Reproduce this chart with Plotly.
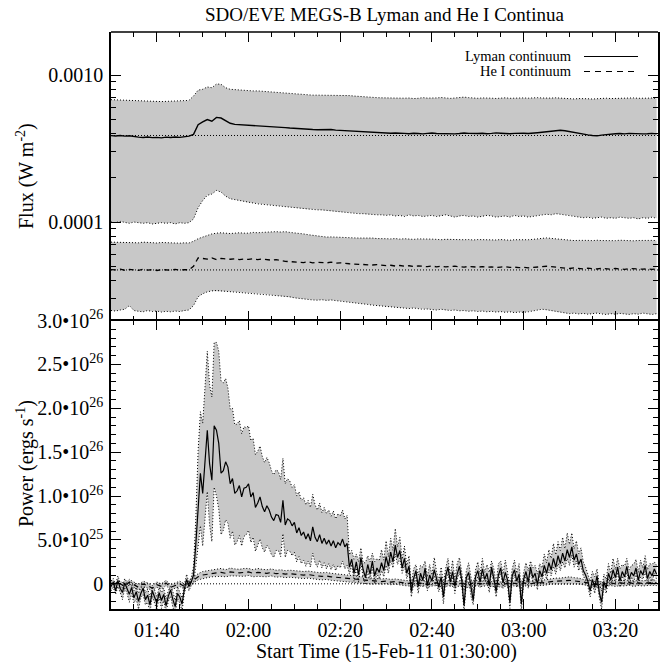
import numpy as np
import plotly.graph_objects as go
from plotly.subplots import make_subplots

# ---------------- data (time = minutes after 01:30:00) ----------------
X_END = 119.3

# top panel, 1-min cadence
lyman_flux_e4 = [3.87,3.85,3.88,3.84,3.86,3.80,3.78,3.76,3.79,3.75,3.77,3.74,3.78,3.76,3.79,3.77,3.81,3.84,
                 3.95,4.60,4.80,4.98,4.85,5.15,5.10,4.88,4.70,4.62,4.60,4.62,4.58,4.55,4.54,4.51,4.50,4.47,4.44,4.41,4.39,4.36,
                 4.33,4.31,4.28,4.27,4.26,4.25,4.27,4.24,4.26,4.22,4.20,4.17,4.15,4.13,4.12,4.10,4.09,4.07,4.06,4.05,
                 4.04,4.02,4.03,4.00,4.01,3.99,4.02,4.00,3.98,4.01,
                 4.03,4.00,3.99,4.02,4.01,3.98,4.00,4.03,4.01,3.99,
                 4.00,4.02,3.99,4.01,4.04,4.02,4.00,3.99,4.01,4.03,
                 4.02,4.00,4.01,4.05,4.08,4.12,4.16,4.19,4.21,4.18,
                 4.12,4.06,4.01,3.97,3.92,3.88,3.86,3.90,3.94,3.97,
                 3.99,4.00,3.98,4.01,3.99,4.00,3.98,3.99,4.01,3.98]
lyman_hi_e4 = [6.80,6.78,6.75,6.72,6.70,6.68,6.66,6.65,6.64,6.62,6.63,6.60,6.62,6.64,6.63,6.66,6.70,6.72,
               7.2,7.9,8.0,8.3,8.2,8.7,8.65,8.2,8.0,7.95,7.9,7.9,7.85,7.8,7.8,7.75,7.7,7.7,7.65,7.6,7.55,7.5,
               7.45,7.4,7.35,7.35,7.3,7.3,7.3,7.28,7.3,7.27,7.3,7.28,7.25,7.2,7.15,7.12,7.1,7.05,7.02,7.0,
               6.98,6.95,7.00,6.93,6.96,6.98,6.92,6.95,7.02,6.97,
               6.95,6.99,7.03,6.96,6.94,6.98,7.05,7.08,7.02,6.97,
               6.95,6.99,7.01,6.96,6.93,6.97,7.00,6.95,6.98,7.02,
               6.99,6.96,7.00,7.02,6.98,6.95,6.97,7.00,6.96,6.93,
               6.90,6.88,6.92,6.95,6.90,6.87,6.91,6.94,6.96,6.92,
               6.95,6.97,6.93,6.96,6.99,6.95,6.92,6.96,6.98,6.94]
lyman_lo_e4 = [1.00,0.99,1.01,0.99,0.98,1.00,0.99,0.98,0.99,0.97,0.98,0.99,0.98,0.99,0.97,0.99,0.98,0.99,
               1.05,1.25,1.40,1.52,1.55,1.64,1.60,1.50,1.44,1.42,1.40,1.38,1.36,1.34,1.33,1.32,1.31,1.30,1.29,1.28,1.27,1.26,
               1.25,1.24,1.23,1.22,1.22,1.21,1.21,1.20,1.19,1.18,1.17,1.16,1.16,1.15,1.14,1.14,1.13,1.13,1.12,1.12,
               1.11,1.12,1.10,1.11,1.09,1.12,1.10,1.11,1.09,1.10,
               1.11,1.09,1.10,1.12,1.10,1.08,1.10,1.11,1.09,1.10,
               1.08,1.09,1.11,1.10,1.08,1.09,1.10,1.08,1.11,1.09,
               1.10,1.08,1.09,1.11,1.12,1.13,1.12,1.14,1.13,1.12,
               1.11,1.10,1.08,1.07,1.08,1.06,1.07,1.08,1.06,1.07,
               1.06,1.08,1.07,1.06,1.07,1.05,1.07,1.06,1.08,1.06]
he_flux_e5 = [4.75,4.72,4.78,4.70,4.76,4.73,4.69,4.77,4.71,4.74,4.68,4.75,4.72,4.70,4.76,4.71,4.74,4.73,
              5.0,5.7,5.65,5.6,5.7,5.55,5.65,5.6,5.58,5.62,5.55,5.6,5.57,5.62,5.55,5.6,5.55,5.5,5.55,5.45,5.4,5.38,
              5.35,5.33,5.3,5.36,5.28,5.32,5.3,5.27,5.33,5.25,5.28,5.22,5.2,5.18,5.15,5.17,5.12,5.1,5.13,5.08,
              5.05,5.08,5.02,5.06,5.0,5.04,4.98,5.03,5.0,4.97,
              5.02,4.96,5.0,4.95,4.99,5.01,4.96,4.94,4.98,4.95,
              4.93,4.97,4.92,4.95,4.9,4.94,4.96,4.91,4.93,4.89,
              4.92,4.88,4.91,4.95,4.98,5.0,4.97,4.93,4.9,4.86,
              4.83,4.87,4.84,4.8,4.85,4.82,4.79,4.84,4.81,4.78,
              4.83,4.8,4.77,4.82,4.79,4.81,4.78,4.8,4.76,4.79]
he_hi_e5 = [7.3,7.28,7.32,7.25,7.3,7.27,7.22,7.3,7.25,7.28,7.2,7.26,7.23,7.2,7.25,7.18,7.22,7.2,
            7.4,7.7,7.9,8.1,8.3,8.4,8.45,8.4,8.35,8.4,8.45,8.4,8.4,8.5,8.45,8.5,8.55,8.5,8.6,8.55,8.6,8.5,
            8.45,8.4,8.3,8.2,8.1,8.0,7.95,7.9,7.92,7.88,7.9,7.85,7.82,7.8,7.78,7.8,7.75,7.78,7.72,7.75,
            7.7,7.68,7.72,7.65,7.7,7.66,7.62,7.68,7.64,7.6,
            7.65,7.62,7.58,7.63,7.6,7.66,7.62,7.58,7.6,7.55,
            7.6,7.57,7.62,7.58,7.55,7.6,7.56,7.52,7.58,7.55,
            7.6,7.58,7.62,7.7,7.75,7.8,7.74,7.68,7.6,7.55,
            7.52,7.48,7.5,7.46,7.5,7.47,7.52,7.48,7.45,7.5,
            7.47,7.52,7.48,7.5,7.45,7.49,7.52,7.47,7.5,7.48]
he_lo_e5 = [2.5,2.48,2.52,2.55,2.7,2.5,2.47,2.45,2.5,2.46,2.48,2.44,2.47,2.45,2.48,2.46,2.5,2.52,
            2.7,3.1,3.25,3.35,3.4,3.42,3.4,3.38,3.36,3.35,3.33,3.3,3.28,3.27,3.26,3.25,3.22,3.2,3.18,3.15,3.12,3.1,
            3.05,3.02,3.0,2.98,2.95,2.94,2.96,2.93,2.95,2.92,2.9,2.88,2.85,2.82,2.8,2.78,2.75,2.72,2.7,2.68,
            2.66,2.64,2.62,2.63,2.6,2.58,2.6,2.57,2.55,2.56,
            2.54,2.52,2.55,2.51,2.5,2.52,2.49,2.5,2.47,2.49,
            2.46,2.48,2.45,2.47,2.44,2.46,2.43,2.45,2.42,2.44,
            2.43,2.45,2.48,2.52,2.55,2.53,2.5,2.46,2.43,2.4,
            2.38,2.4,2.37,2.39,2.36,2.38,2.4,2.37,2.35,2.38,
            2.36,2.39,2.37,2.35,2.38,2.36,2.4,2.37,2.35,2.38]
lyman_ref = 3.88e-4
he_ref = 4.72e-5

# bottom panel, 30-s cadence (units of 1e25 erg/s)
power_ly_e25 = [-0.3,0.2,-0.8,0.4,-0.5,-1.0,0.1,-0.6,
                -1.2,-0.4,-1.6,-0.9,-2.0,-1.1,-0.5,-1.8,
                -1.3,-2.4,-0.8,-1.5,-2.2,-1.0,-1.9,-1.2,
                -2.5,-1.4,-0.7,-1.8,-2.6,-1.1,-1.5,-2.3,
                -0.6,0.5,-0.3,0.2,
                1.0,4.5,9.2,12.6,10.3,14.1,17.5,13.7,11.8,18.0,17.5,16.0,12.6,12.9,13.9,13.3,11.4,12.0,
                10.3,10.6,11.2,9.9,10.9,11.0,11.4,9.9,10.4,8.7,9.2,9.9,8.8,8.2,8.9,8.4,7.6,7.2,7.9,7.8,
                7.0,9.5,6.7,7.4,7.2,6.6,
                7.0,5.8,6.4,5.5,5.9,5.1,5.7,4.9,6.5,5.3,4.8,5.6,4.6,5.2,4.5,5.0,4.3,4.9,4.1,4.7,4.4,5.1,4.2,4.6,
                1.9,2.8,1.2,2.5,1.0,3.0,1.6,0.7,2.2,1.1,2.6,0.9,1.8,1.3,
                2.4,1.5,3.1,2.0,3.6,2.5,4.4,3.0,3.8,1.8,2.9,1.2,2.0,
                -0.9,0.6,1.5,-0.3,1.2,0.4,1.8,-0.2,1.0,0.3,1.6,0.5,-0.4,0.8,-1.5,0.9,1.9,0.2,1.4,-0.3,
                1.1,2.0,0.4,-2.5,0.7,1.3,-0.6,-1.9,0.8,1.5,
                0.2,1.7,0.5,1.2,-0.2,1.9,0.6,-0.9,1.0,1.8,0.1,1.3,0.4,-2.1,0.9,1.6,0.3,1.1,-2.3,0.5,
                1.4,0.2,1.9,0.7,1.2,-0.1,1.5,0.8,2.1,
                1.2,2.4,1.6,2.9,1.9,3.2,2.3,3.5,2.6,3.9,3.0,4.2,2.7,3.4,2.2,2.8,1.5,1.0,
                0.3,-0.8,0.5,-0.4,0.9,-1.0,-2.1,0.2,-0.5,
                1.2,0.4,1.6,0.7,1.9,0.3,1.4,0.8,2.0,0.5,1.3,0.9,1.8,0.4,1.5,1.0,2.1,0.6,1.4,0.9,1.7,1.1]
err_ly_hi_e25 = [0.6,0.4,0.7,0.5,0.6,0.8,0.5,0.7,0.9,0.6,0.8,0.5,0.9,0.7,0.6,0.8,0.7,0.9,0.5,0.8,0.7,0.6,0.9,0.7,
                 0.8,0.6,0.5,0.9,0.7,0.8,0.6,0.7,0.5,0.6,0.4,0.5,
                 1.0,3.0,6.0,7.0,8.0,8.5,9.0,9.0,9.5,9.5,10.0,10.5,10.5,10.0,9.5,9.0,8.5,8.0,7.8,7.6,7.4,7.2,
                 7.0,6.8,6.6,6.4,6.2,6.0,5.9,5.8,5.7,5.6,5.5,5.4,5.3,5.2,5.1,5.0,4.9,4.8,4.7,4.6,4.5,4.4,
                 4.3,4.2,4.1,4.0,3.9,3.9,3.8,3.8,3.7,3.7,3.6,3.6,3.5,3.5,3.5,3.4,3.4,3.4,3.3,3.3,3.3,3.3,3.2,3.2,
                 1.4,1.0,1.6,0.9,1.5,1.1,0.8,1.7,1.0,1.4,0.9,1.6,1.1,1.3,
                 1.5,1.2,1.8,1.1,1.6,1.3,1.9,1.2,1.5,1.0,1.4,0.9,1.2,
                 0.8,1.1,0.7,1.3,0.9,1.5,0.8,1.0,1.2,0.7,1.4,0.9,0.8,1.1,1.6,0.9,1.0,0.7,1.3,0.8,
                 1.2,1.0,0.9,1.7,0.8,1.1,1.4,0.9,0.8,1.0,
                 0.9,1.2,0.8,1.0,1.5,0.7,1.1,0.9,1.3,0.8,1.0,1.4,0.9,1.6,0.8,1.1,0.9,1.2,1.5,0.8,
                 1.0,1.3,0.7,1.1,0.9,1.2,0.8,1.0,1.3,
                 1.2,1.5,1.3,1.7,1.4,1.6,1.5,1.8,1.4,1.9,1.5,1.6,1.3,1.5,1.2,1.3,1.0,0.9,
                 0.8,1.1,0.9,1.2,0.8,1.0,1.3,0.9,1.0,
                 1.1,0.8,1.3,0.9,1.0,1.4,0.8,1.2,0.9,1.1,0.8,1.3,1.0,0.9,1.2,0.8,1.1,1.0,0.9,1.3,0.8,1.0]
err_ly_lo_e25 = [0.5,0.6,0.4,0.7,0.5,0.8,0.6,0.5,0.9,0.7,0.6,0.8,0.9,0.5,0.7,0.6,0.8,0.9,0.6,0.7,0.8,0.5,0.9,0.7,
                 0.8,0.6,0.7,0.9,0.8,0.6,0.7,0.8,0.5,0.6,0.5,0.4,
                 1.0,2.5,5.0,6.0,6.0,6.5,7.0,7.0,7.0,7.0,7.5,7.5,7.0,6.8,6.6,6.4,6.2,6.0,5.9,5.8,5.7,5.6,
                 5.5,5.4,5.3,5.2,5.1,5.0,4.9,4.8,4.7,4.6,4.5,4.4,4.3,4.2,4.1,4.0,3.9,3.8,3.7,3.6,3.5,3.4,
                 3.4,3.3,3.3,3.2,3.2,3.1,3.1,3.0,3.0,2.9,2.9,2.9,2.8,2.8,2.8,2.7,2.7,2.7,2.6,2.6,2.6,2.5,2.5,2.5,
                 0.8,0.6,0.9,0.7,0.8,0.6,0.9,0.7,0.8,0.6,0.7,0.9,0.6,0.8,
                 0.9,0.7,1.0,0.8,0.9,0.7,1.0,0.8,0.9,0.6,0.8,0.6,0.7,
                 0.6,0.7,0.5,0.8,0.6,0.7,0.5,0.6,0.8,0.5,0.7,0.6,0.5,0.7,0.8,0.6,0.7,0.5,0.6,0.8,
                 0.6,0.7,0.5,0.6,0.7,0.6,0.8,0.5,0.6,0.7,
                 0.6,0.7,0.5,0.6,0.8,0.5,0.7,0.6,0.7,0.5,0.6,0.8,0.6,0.7,0.5,0.6,0.7,0.6,0.8,0.5,
                 0.6,0.7,0.5,0.6,0.7,0.6,0.5,0.7,0.6,
                 0.7,0.8,0.7,0.9,0.8,0.9,0.8,1.0,0.8,1.0,0.9,0.9,0.8,0.8,0.7,0.8,0.6,0.6,
                 0.6,0.7,0.5,0.7,0.6,0.6,0.8,0.5,0.6,
                 0.7,0.5,0.8,0.6,0.6,0.7,0.5,0.7,0.6,0.7,0.5,0.8,0.6,0.6,0.7,0.5,0.7,0.6,0.6,0.8,0.5,0.6]

# He I power, 1-min cadence (units of 1e25 erg/s)
power_he_e25 = [0.1,-0.2,0.0,-0.3,0.2,-0.1,-0.4,0.0,-0.2,-0.5,-0.1,-0.3,0.1,-0.4,-0.2,0.0,-0.3,0.1,
                0.4,0.8,1.0,1.1,1.2,1.25,1.3,1.2,1.35,1.3,1.25,1.3,1.35,1.2,1.3,1.25,1.2,1.3,1.15,1.2,1.1,1.15,
                1.1,1.05,1.0,1.05,0.95,0.9,0.85,0.9,0.8,0.75,0.7,0.65,0.55,0.5,0.45,0.4,0.35,0.3,0.3,0.25,
                0.3,0.2,0.25,0.15,0.1,0.05,0.1,0.0,0.1,-0.1,0.05,0.1,-0.05,0.0,0.1,-0.1,0.05,0.0,-0.15,0.1,
                0.05,0.0,0.1,-0.05,0.05,-0.1,0.0,0.1,0.05,-0.05,0.1,0.0,0.05,0.15,0.1,
                0.2,0.25,0.3,0.3,0.35,0.4,0.35,0.3,0.2,0.1,
                0.0,-0.1,-0.05,0.05,0.1,0.0,0.1,0.05,0.15,0.0,0.1,0.05,0.1,0.15,0.1]
err_he_e25 = [0.3,0.3,0.3,0.3,0.3,0.3,0.3,0.3,0.3,0.3,0.3,0.3,0.3,0.3,0.3,0.3,0.3,0.3,
              0.3,0.35,0.4,0.4,0.4,0.4,0.45,0.4,0.45,0.4,0.4,0.45,0.4,0.4,0.45,0.4,0.4,0.4,0.4,0.4,0.4,0.4,
              0.4,0.4,0.4,0.4,0.4,0.4,0.4,0.4,0.4,0.4,0.4,0.4,0.4,0.4,0.4,0.4,0.35,0.35,0.3,0.3,
              0.3,0.3,0.3,0.3,0.3,0.3,0.3,0.3,0.3,0.3,0.3,0.3,0.3,0.3,0.3,0.3,0.3,0.3,0.3,0.3,
              0.3,0.3,0.3,0.3,0.3,0.3,0.3,0.3,0.3,0.3,0.3,0.3,0.3,0.3,0.3,
              0.3,0.3,0.35,0.35,0.35,0.4,0.35,0.35,0.3,0.3,
              0.3,0.3,0.3,0.3,0.3,0.3,0.3,0.3,0.3,0.3,0.3,0.3,0.3,0.3,0.3]

x_tick_vals = [10, 30, 50, 70, 90, 110]
x_tick_text = ["01:40", "02:00", "02:20", "02:40", "03:00", "03:20"]
p_tick_vals = [0, 5e25, 1e26, 1.5e26, 2e26, 2.5e26, 3e26]
p_tick_text = ["0", "5.0•10<sup>25</sup>", "1.0•10<sup>26</sup>", "1.5•10<sup>26</sup>",
               "2.0•10<sup>26</sup>", "2.5•10<sup>26</sup>", "3.0•10<sup>26</sup>"]

# ---------------- figure ----------------
W, H = 660, 662
ML, MR, MT, MB = 111, 2, 32, 53
PW, PH = W - ML - MR, H - MT - MB
def px2x(px):
    return (px - ML) / PW
def px2y(py):
    return (H - MB - py) / PH

FONT = "Liberation Serif"
GRAY = "rgb(200,200,200)"
DOT = "1px,2px"

fig = make_subplots(rows=2, cols=1, shared_xaxes=True, vertical_spacing=0)

def band(t, lo, hi, row):
    t = np.asarray(t); lo = np.asarray(lo); hi = np.asarray(hi)
    fig.add_trace(go.Scatter(x=np.concatenate([t, t[::-1]]), y=np.concatenate([hi, lo[::-1]]),
                             fill="toself", fillcolor=GRAY, line=dict(width=0), mode="lines",
                             hoverinfo="skip", showlegend=False), row=row, col=1)

def line(t, y, row, dash="solid", width=1.0, color="black"):
    fig.add_trace(go.Scatter(x=t, y=y, mode="lines", line=dict(color=color, width=width, dash=dash),
                             showlegend=False), row=row, col=1)

# top panel
t1 = np.arange(len(lyman_flux_e4)) * 1.0
ly = np.array(lyman_flux_e4) * 1e-4
lyh = np.array(lyman_hi_e4) * 1e-4
lyl = np.array(lyman_lo_e4) * 1e-4
he = np.array(he_flux_e5) * 1e-5
heh = np.array(he_hi_e5) * 1e-5
hel = np.array(he_lo_e5) * 1e-5

band(t1, lyl, lyh, 1)
band(t1, hel, heh, 1)
for arr in (lyh, lyl, heh, hel):
    line(t1, arr, 1, dash=DOT, width=1.0)
line([0, X_END], [lyman_ref, lyman_ref], 1, dash=DOT, width=1.0)
line([0, X_END], [he_ref, he_ref], 1, dash=DOT, width=1.0)
line(t1, he, 1, dash="5px,4px", width=1.3)
line(t1, ly, 1, width=1.4)

# bottom panel
t2 = np.arange(len(power_ly_e25)) * 0.5
p = np.array(power_ly_e25) * 1e25
ph = p + np.array(err_ly_hi_e25) * 1e25
pl = p - np.array(err_ly_lo_e25) * 1e25
t3 = np.arange(len(power_he_e25)) * 1.0
q = np.array(power_he_e25) * 1e25
qh = q + np.array(err_he_e25) * 1e25
ql = q - np.array(err_he_e25) * 1e25

band(t2, pl, ph, 2)
band(t3, ql, qh, 2)
for arr in (qh, ql):
    line(t3, arr, 2, dash=DOT, width=1.0)
for arr in (ph, pl):
    line(t2, arr, 2, dash=DOT, width=1.0)
line([0, X_END], [0, 0], 2, dash=DOT, width=1.0)
line(t3, q, 2, dash="5px,4px", width=1.2)
line(t2, p, 2, width=1.2)

tickfont = dict(family=FONT, size=20, color="black")
common = dict(linecolor="black", linewidth=1.5, mirror="ticks", ticks="inside",
              ticklen=10, tickwidth=1, tickcolor="black", showgrid=False, zeroline=False,
              tickfont=tickfont, automargin=False)

fig.update_xaxes(range=[0, X_END], tickvals=x_tick_vals, ticktext=x_tick_text,
                 minor=dict(dtick=5, tick0=0, ticks="inside", ticklen=5, tickcolor="black", tickwidth=1),
                 **common)
# top panel x-axis: ticks on both sides but no line (lines come from the bottom panel and a shape)
fig.update_xaxes(showticklabels=False, showline=False, row=1, col=1)
fig.update_xaxes(showline=True, ticklabelstandoff=2, row=2, col=1)

log_minor = [k * 1e-5 for k in range(2, 10)] + [k * 1e-4 for k in range(2, 10)]
fig.update_yaxes(type="log", range=[-4.670, -2.707], tickvals=[1e-4, 1e-3], ticktext=["0.0001", "0.0010"],
                 minor=dict(tickvals=log_minor, ticks="inside", ticklen=5, tickcolor="black", tickwidth=1),
                 showline=True, ticklabelstandoff=2, row=1, col=1, **common)
fig.update_yaxes(range=[-2.87e25, 3.0e26], tickvals=p_tick_vals, ticktext=p_tick_text,
                 minor=dict(dtick=1e25, tick0=0, ticks="inside", ticklen=5, tickcolor="black", tickwidth=1),
                 showline=True, ticklabelstandoff=2, row=2, col=1, **common)

ann = []
ann.append(dict(text="SDO/EVE MEGS-B Lyman and He I Continua", x=0.5, y=px2y(14), xref="paper", yref="paper",
                showarrow=False, xanchor="center", yanchor="middle", font=dict(family=FONT, size=19, color="black")))
ann.append(dict(text="Flux (W m<sup>-2</sup>)", x=px2x(25), y=px2y(176), xref="paper", yref="paper",
                textangle=-90, showarrow=False, xanchor="center", yanchor="middle",
                font=dict(family=FONT, size=20, color="black")))
ann.append(dict(text="Power (ergs s<sup>-1</sup>)", x=px2x(25), y=px2y(464), xref="paper", yref="paper",
                textangle=-90, showarrow=False, xanchor="center", yanchor="middle",
                font=dict(family=FONT, size=20, color="black")))
ann.append(dict(text="Start Time (15-Feb-11 01:30:00)", x=px2x(386), y=px2y(651), xref="paper", yref="paper",
                showarrow=False, xanchor="center", yanchor="middle", font=dict(family=FONT, size=20, color="black")))
ann.append(dict(text="Lyman continuum", x=px2x(574), y=px2y(56.5), xref="paper", yref="paper",
                showarrow=False, xanchor="right", yanchor="middle", font=dict(family=FONT, size=14.5, color="black")))
ann.append(dict(text="He I continuum", x=px2x(574), y=px2y(71.5), xref="paper", yref="paper",
                showarrow=False, xanchor="right", yanchor="middle", font=dict(family=FONT, size=14.5, color="black")))

shapes = [
    dict(type="line", xref="paper", yref="paper", x0=px2x(584), x1=px2x(638), y0=px2y(56.5), y1=px2y(56.5),
         line=dict(color="black", width=1.2)),
    dict(type="line", xref="paper", yref="paper", x0=px2x(584), x1=px2x(634), y0=px2y(71.5), y1=px2y(71.5),
         line=dict(color="black", width=1.2, dash="6px,5px")),
    # top border of the upper panel
    dict(type="line", xref="paper", yref="paper", x0=0, x1=1, y0=1, y1=1,
         line=dict(color="black", width=1.5)),
]

fig.update_layout(width=W, height=H, margin=dict(l=ML, r=MR, t=MT, b=MB), plot_bgcolor="white",
                  paper_bgcolor="white", showlegend=False, annotations=ann, shapes=shapes,
                  font=dict(family=FONT, color="black"))

fig.write_html("out.html", config={"displayModeBar": False},
               post_script="document.body.style.margin='0px';")
